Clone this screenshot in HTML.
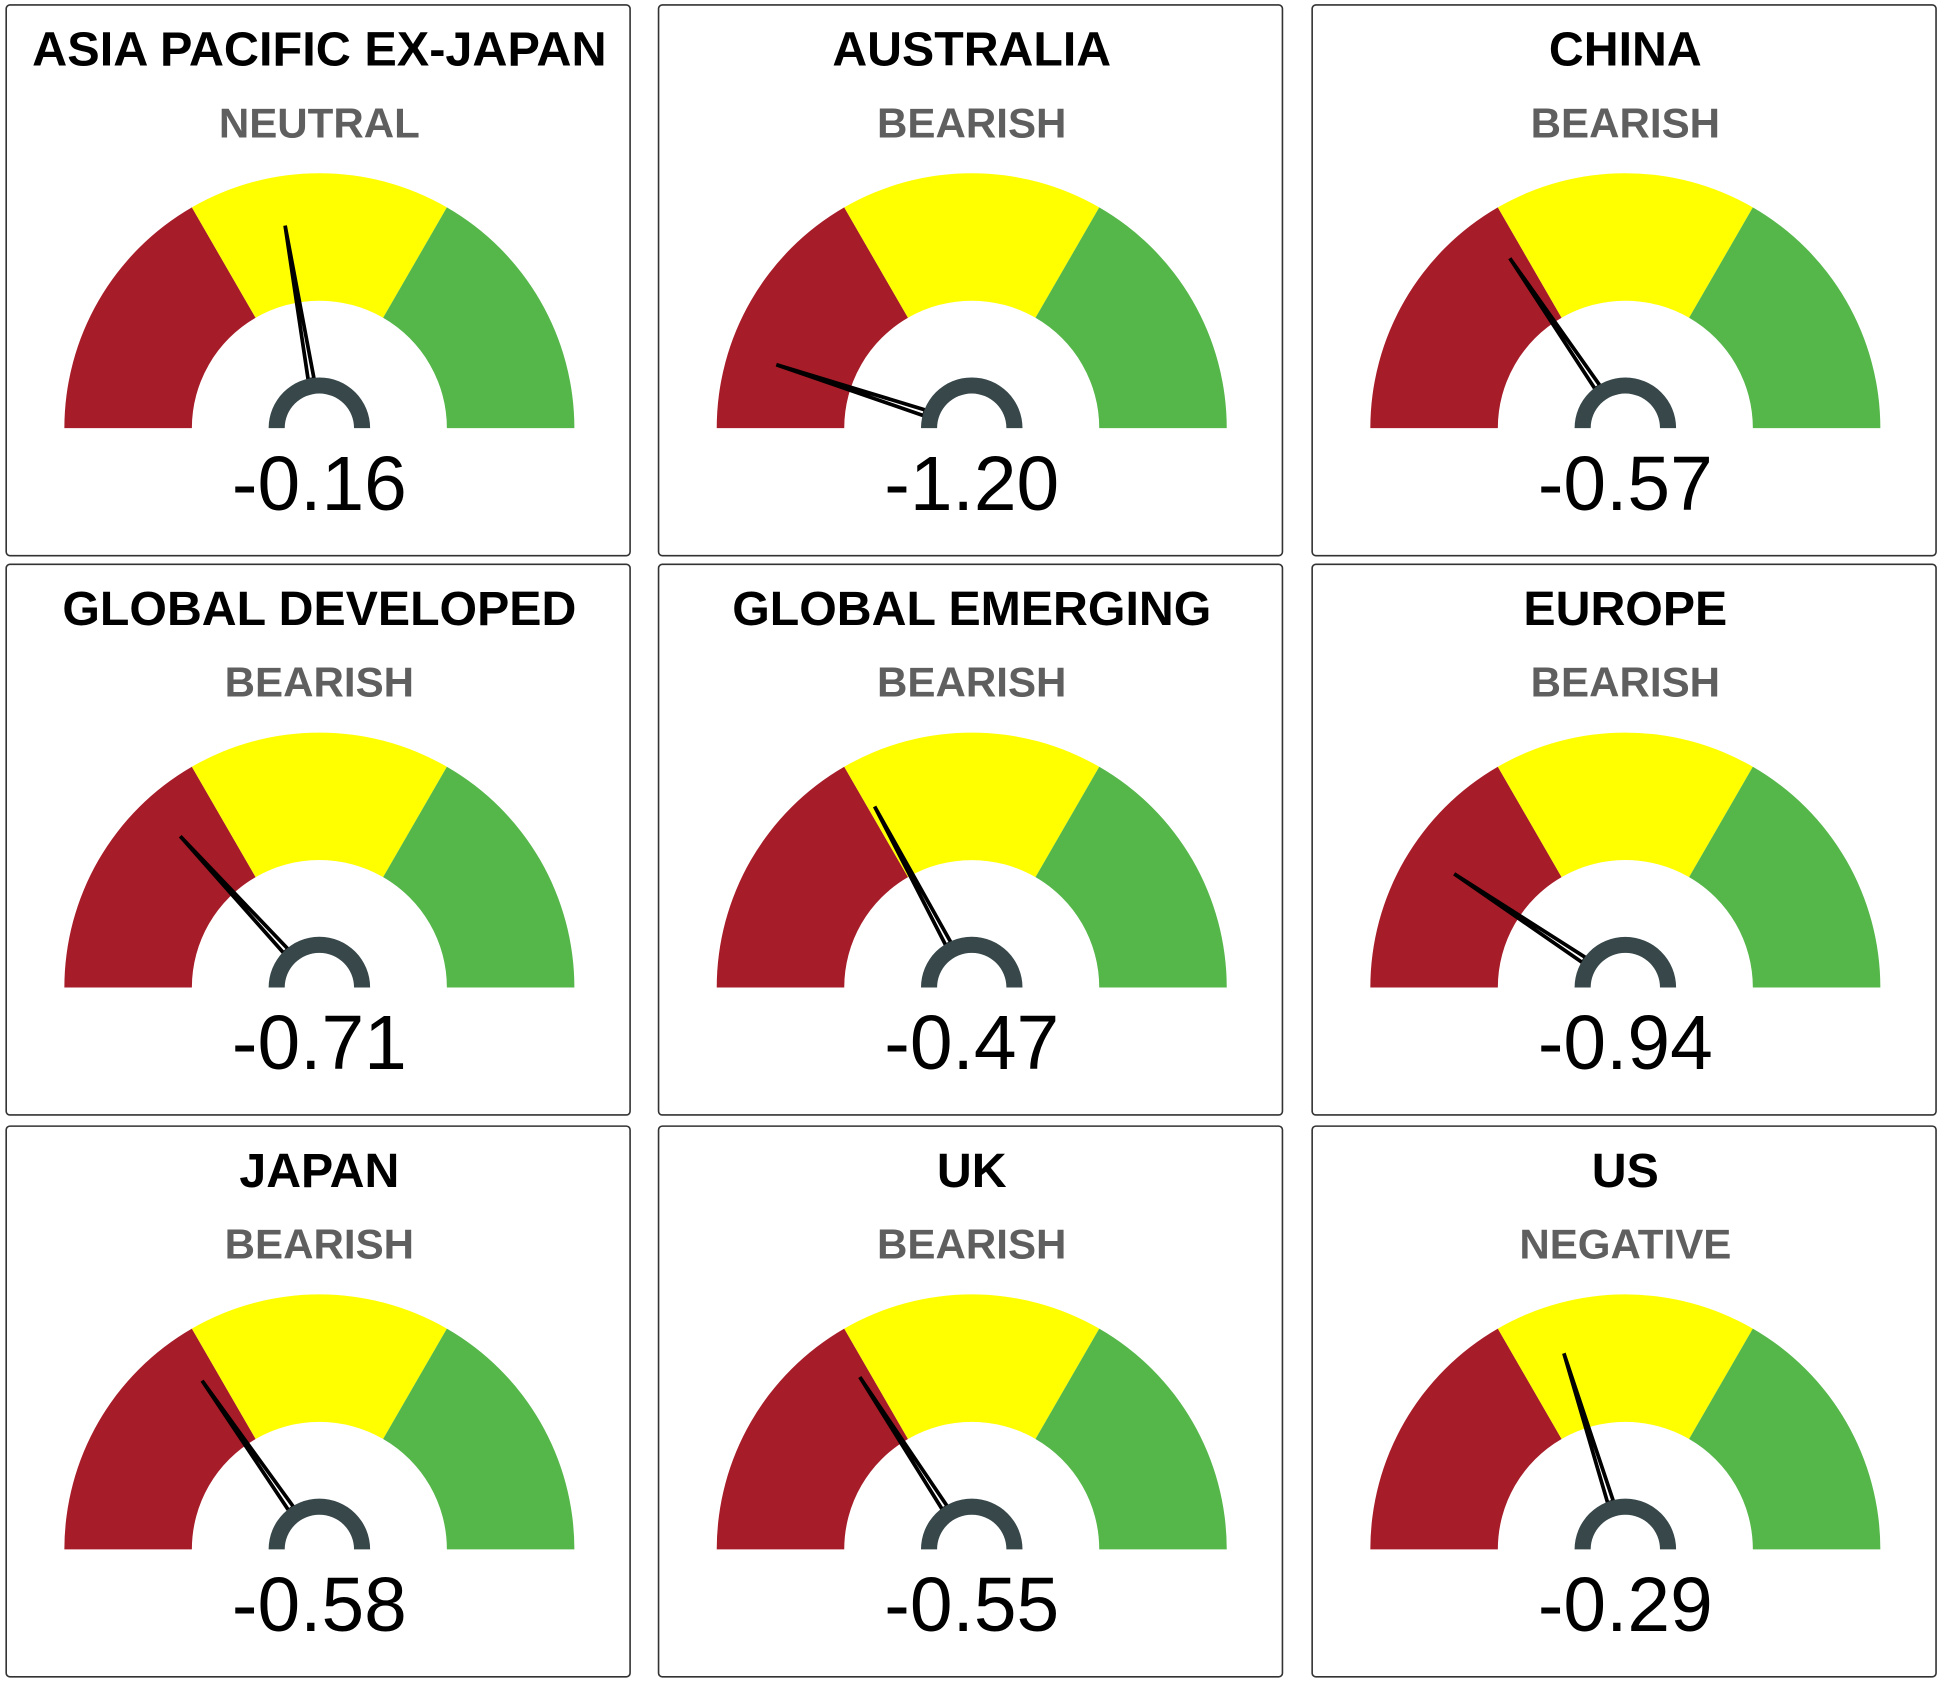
<!DOCTYPE html>
<html><head><meta charset="utf-8"><style>
html,body{margin:0;padding:0;background:#fff;}
svg{display:block;}
</style></head><body>
<svg id="chart" width="1941" height="1683" viewBox="0 0 1568 1360" preserveAspectRatio="none" xmlns="http://www.w3.org/2000/svg"></svg>
<script>
const regions = ["ASIA PACIFIC EX-JAPAN","AUSTRALIA","CHINA","GLOBAL DEVELOPED","GLOBAL EMERGING","EUROPE","JAPAN","UK","US"];
const statuses = ["NEUTRAL","BEARISH","BEARISH","BEARISH","BEARISH","BEARISH","BEARISH","BEARISH","NEGATIVE"];
const values = [-0.16,-1.20,-0.57,-0.71,-0.47,-0.94,-0.58,-0.55,-0.29];
const scaleMin = -1.5, scaleMax = 1.5;

const NS = "http://www.w3.org/2000/svg";
const svg = document.getElementById('chart');
const cardX = [5, 532, 1060], cardY = [4, 456, 910];
const cardW = 504, cardH = 445;
function mk(tag, attrs, parent){ const e=document.createElementNS(NS,tag); for(const k in attrs) e.setAttribute(k,attrs[k]); (parent||svg).appendChild(e); return e; }
function angleOf(v){ return Math.PI*(v-scaleMin)/(scaleMax-scaleMin); }
function pt(cx,cy,r,a){ return [cx - r*Math.cos(a), cy - r*Math.sin(a)]; }
function band(cx,cy,r0,r1,a0,a1){
  const p1=pt(cx,cy,r1,a0), p2=pt(cx,cy,r1,a1), p3=pt(cx,cy,r0,a1), p4=pt(cx,cy,r0,a0);
  return `M${p1[0]},${p1[1]} A${r1},${r1} 0 0 1 ${p2[0]},${p2[1]} L${p3[0]},${p3[1]} A${r0},${r0} 0 0 0 ${p4[0]},${p4[1]} Z`;
}
regions.forEach((name,i)=>{
  const col=i%3,row=Math.floor(i/3);
  const x=cardX[col], y=cardY[row];
  const g=mk('g',{});
  
  
  const rect=mk('rect',{x:x,y:y,width:cardW,height:cardH,rx:3,fill:'#fff',stroke:'#333','stroke-width':1.3},g);
  
  
  const cx=x+253, cy=y+342;
  const t=mk('text',{x:cx,y:y+49,'text-anchor':'middle','font-family':'"Liberation Sans",sans-serif','font-weight':'bold','font-size':39,fill:'#000'},g);
  t.textContent=name;
  if(name.length>18){ t.setAttribute('textLength',464); t.setAttribute('lengthAdjust','spacingAndGlyphs'); }
  
  
  const s=mk('text',{x:cx,y:y+107,'text-anchor':'middle','font-family':'"Liberation Sans",sans-serif','font-weight':'bold','font-size':34,fill:'#5f5f5f'},g);
  s.textContent=statuses[i];
  
  
  const cols=['#a61c28','#ffff00','#55b74a'];
  for(let k=0;k<3;k++){
    const b=mk('path',{d:band(cx,cy,103,206,k*Math.PI/3,(k+1)*Math.PI/3),fill:cols[k]},g);
    
    
  }
  const a=angleOf(values[i]);
  const tip=pt(cx,cy,166,a), b1=pt(cx,cy,40,a+0.06), b2=pt(cx,cy,40,a-0.06);
  const n=mk('polygon',{points:`${tip[0]},${tip[1]} ${b1[0]},${b1[1]} ${b2[0]},${b2[1]}`,fill:'#fff',stroke:'#000','stroke-width':3,'stroke-linejoin':'miter'},g);
  
  
  const h=mk('path',{d:band(cx,cy,28,41,0,Math.PI),fill:'#37474a'},g);
  
  
  const v=mk('text',{x:cx,y:y+408,'text-anchor':'middle','font-family':'"Liberation Sans",sans-serif','font-size':62,fill:'#000'},g);
  v.textContent=values[i].toFixed(2);
  
  
});
</script>
</body></html>
